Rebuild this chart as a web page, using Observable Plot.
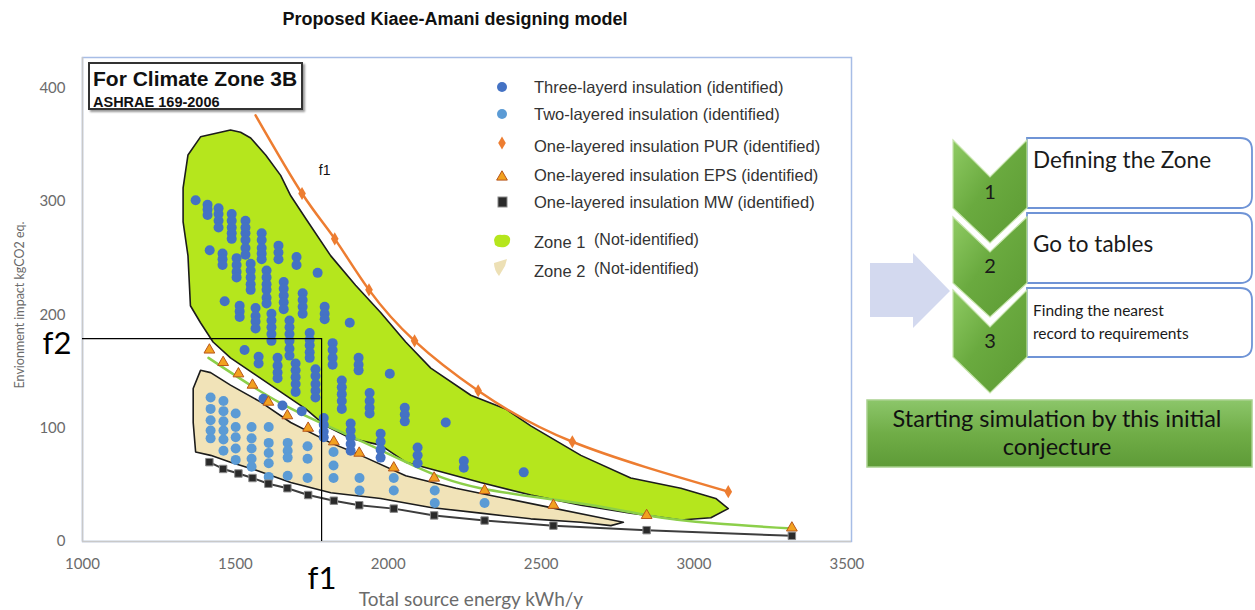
<!DOCTYPE html>
<html><head><meta charset="utf-8">
<script src="https://cdn.jsdelivr.net/npm/d3@7"></script>
<script src="https://cdn.jsdelivr.net/npm/@observablehq/plot@0.6"></script>
<style>
body{margin:0;background:#fff;}
#page{position:relative;width:1255px;height:610px;overflow:hidden;font-family:"Liberation Sans",Arial,sans-serif;}
.abs{position:absolute;white-space:nowrap;line-height:1;}
#chart{position:absolute;left:0;top:0;}
#diagram{position:absolute;left:0;top:0;}
</style></head><body><div id="page"><div id="chart"></div></div>
<script>
// ---------- data ----------
const xTicks = [1000, 1500, 2000, 2500, 3000, 3500];
const yTicks = [0, 100, 200, 300, 400];

// Three-layered insulation (identified): columns of points (x, list of y)
const threeLayerX = [1370,1409,1445,1488,1533,1586,1641,1700,1769,
  1416,1458,1504,1550,1602,1658,1720,1792,1874,
  1465,1514,1566,1618,1677,1743,1818,1903,2005,
  1530,1576,1638,1697,1762,1848,1939,2054,2188,
  1592,1654,1717,1789,1877,1975,2096,2247,2443];
const threeLayerY = [
  [301],[297,293,288],[294,289,283,277],[289,283,277,272,267],[283,277,272,266,259,253],[272,266,259,254,249],[261,255,249],[251,244],[237],
  [257],[254,249,244],[250,244,238,233],[245,239,233,227,222],[239,233,227,222,215,210],[229,223,217,211,205],[219,213,207,201],[207,201,196],[193],
  [212],[208,203,198],[206,199,194,188],[201,195,189,183,177],[195,189,183,177,170,164],[184,178,173,167,162],[175,169,162,156],[162,156,151],[148],
  [169],[163,157],[162,155,149,144],[157,151,145,139,132],[152,146,139,133,127],[142,136,130,124,117],[131,124,118,113],[118,112,106],[105],
  [126],[120],[115],[109,103,97,92],[104,98,92,86,80],[95,88,81,74],[83,76,69],[71,65],[61]
];

// Two-layered insulation (identified)
const twoLayerX = [1419,1461,1501,1553,1609,1671,1736,1821,1906,2018,2152,2315];
const twoLayerY = [[127,117,107,98,91],[124,115,106,98,90,80],[113,101,92,82,72],[101,91,82,73,66],
  [101,87,78,69,57],[87,80,74,58],[84,73,56],[79,67,56],[56,45],[56,45],[45,34],[34]];

// One-layered PUR
const purX = [1566,1718,1825,1937,2086,2294,2602,3112];
const purY = [376,307,267,222,177,133,88,44];

// One-layered EPS and MW share the same energy values
const oneLayerX = [1415,1460,1510,1556,1608,1670,1738,1822,1905,2018,2150,2315,2540,2845,3320];
const epsY = [169,158,148,138,123,111,100,88,78,65,56,45,32,23,12];
const mwY  = [70,64,60,56,51,47,41,36,32,29,23,18.5,14,10,5];

// green trend line
const trendX = [1412,1648,1867,2083,2302,2630,2849,3065,3323];
const trendY = [162,122,94,67,47,33.5,23,16,11.5];

// Zone 1 (Not-identified)
const zone1X = [1484,1386,1345,1329,1329,1345,1353,1386,1427,1484,1566,1648,1730,1795,1877,1975,2057,2139,2302,2466,2630,2793,2957,3055,3112,3071,2957,2793,2630,2466,2384,2270,2139,2057,1975,1893,1812,1730,1681,1648,1599,1550,1517];
const zone1Y = [363,357,341,312,282,252,208,193,176,162,147,132,117,102,91,85,70,64,52,41,32,25,19,21,29,38,47,56,76,102,117,129,153,176,202,226,252,285,305,323,341,356,361];

// Zone 2 (Not-identified)
const zone2X = [1386,1362,1362,1370,1419,1484,1566,1681,1812,1975,2139,2302,2466,2630,2728,2769,2711,2548,2384,2221,2057,1910,1812,1681,1583,1484,1419];
const zone2Y = [151,135,105,79,76,70,63,52,43,38,30,25,20,17,14,17,20,29,38,47,58,76,87,105,123,138,149];

// chosen design point
const f1Value = 1782;
const f2Value = 179;

const legendLabels = ["Three-layerd insulation (identified)","Two-layered insulation (identified)",
  "One-layered insulation PUR (identified)","One-layered insulation EPS (identified)",
  "One-layered insulation MW (identified)","Zone 1","Zone 2"];
const steps = ["Defining the Zone","Go to tables","Finding the nearest|record to requirements"];

// ---------- build ----------
const three = threeLayerX.flatMap((x,i)=>threeLayerY[i].map(y=>({x,y})));
const two = twoLayerX.flatMap((x,i)=>twoLayerY[i].map(y=>({x,y})));
const pur = purX.map((x,i)=>({x,y:purY[i]}));
const eps = oneLayerX.map((x,i)=>({x,y:epsY[i]}));
const mw = oneLayerX.map((x,i)=>({x,y:mwY[i]}));
const trend = trendX.map((x,i)=>({x,y:trendY[i]}));
const zone1 = zone1X.map((x,i)=>({x,y:zone1Y[i]}));
const zone2 = zone2X.map((x,i)=>({x,y:zone2Y[i]}));

const chart = Plot.plot({
  width: 870, height: 610,
  marginLeft: 82, marginRight: 19, marginTop: 57, marginBottom: 69,
  x: {domain: [1000, 3515]},
  y: {domain: [0, 427]},
  style: {fontFamily: "Lato, sans-serif", background: "transparent", color: "#6b6b6b", overflow: "visible"},
  marks: [
    Plot.frame({stroke: "#a7bde6", strokeWidth: 1.5}),
    Plot.ruleX([1000], {stroke: "#c9c9c9", strokeWidth: 1.5}),
    Plot.ruleY([0], {stroke: "#c9c9c9", strokeWidth: 1.5}),
    Plot.axisX({ticks: xTicks, tickSize: 0, tickPadding: 17, fontSize: 15, tickFormat: d => String(d), label: null}),
    Plot.axisY({ticks: yTicks, tickSize: 0, tickPadding: 17, fontSize: 15, tickFormat: d => String(d), label: null}),
    Plot.line(zone1, {x: "x", y: "y", curve: "linear-closed", fill: "#b5e61d", stroke: "#1c1c1c", strokeWidth: 1.6}),
    Plot.line(zone2, {x: "x", y: "y", curve: "linear-closed", fill: "#f1e3b8", stroke: "#1c1c1c", strokeWidth: 1.6}),
    Plot.line(mw, {x: "x", y: "y", stroke: "#3d3d3d", strokeWidth: 2}),
    Plot.line(trend, {x: "x", y: "y", curve: "natural", stroke: "#8ccf4a", strokeWidth: 2.5}),
    Plot.line(pur, {x: "x", y: "y", curve: "natural", stroke: "#ed7d31", strokeWidth: 2.5}),
    Plot.dot(two, {x: "x", y: "y", r: 5, fill: "#5b9bd5"}),
    Plot.dot(three, {x: "x", y: "y", r: 5, fill: "#4472c4"}),
    Plot.dot(eps, {x: "x", y: "y", symbol: "triangle", r: 4, fill: "#f2a11f", stroke: "#b8561b", strokeWidth: 1}),
    Plot.dot(mw, {x: "x", y: "y", symbol: "square", r: 4.2, fill: "#2a2a2a", stroke: "#8a8a8a", strokeWidth: 1}),
    Plot.dot(pur.slice(1), {x: "x", y: "y", symbol: "diamond", r: 4, fill: "#ed7d31"}),
    Plot.ruleY([f2Value], {x1: 1000, x2: f1Value, stroke: "#000", strokeWidth: 1.2}),
    Plot.ruleX([f1Value], {y1: 0, y2: f2Value, stroke: "#000", strokeWidth: 1.2}),
    Plot.text([{x: 1792, y: 327, t: "f1"}], {x: "x", y: "y", text: "t", fontSize: 14, fill: "#111", fontFamily: "Liberation Sans, Arial"})
  ]
});
document.getElementById("chart").appendChild(chart);

const page = document.getElementById("page");
function addText(txt, x, y, css, anchor) {
  const d = document.createElement("div");
  d.className = "abs";
  d.textContent = txt;
  d.style.cssText += css;
  d.style.left = x + "px"; d.style.top = y + "px";
  const tx = anchor === "middle" ? "-50%" : anchor === "end" ? "-100%" : "0";
  d.style.transform = `translate(${tx},-50%)`;
  page.appendChild(d);
  return d;
}

// title
addText("Proposed Kiaee-Amani designing model", 455, 19, "font-weight:bold;font-size:18px;color:#111;", "middle");
// axis titles
addText("Total source energy kWh/y", 471, 598, "font-family:Lato,sans-serif;font-size:19px;color:#6b6b6b;", "middle");
const yt = addText("Envionment impact kgCO2 eq.", 20, 305, "font-family:Lato,sans-serif;font-size:12.5px;color:#6b6b6b;", "middle");
yt.style.transform = "translate(-50%,-50%) rotate(-90deg)";
// f1 / f2
addText("f2", 57, 342, "font-family:Lato,sans-serif;font-size:31px;color:#000;", "middle");
addText("f1", 322, 577, "font-family:Lato,sans-serif;font-size:31px;color:#000;", "middle");

// annotation box
const box = document.createElement("div");
box.className = "abs";
box.style.cssText = "left:88px;top:62px;width:211px;height:44px;border:2px solid #333;box-shadow:2px 2px 2px #999;background:#fff;";
page.appendChild(box);
addText("For Climate Zone 3B", 93, 78, "font-weight:bold;font-size:21px;color:#111;", "start");
addText("ASHRAE 169-2006", 93, 102, "font-weight:bold;font-size:14.5px;color:#111;", "start");

// legend text
const legY = [87, 114, 146, 175, 202, 242, 271];
legendLabels.forEach((t, i) => {
  addText(t, 534, legY[i], "font-size:16.5px;color:#333;", "start");
  if (i >= 5) addText("(Not-identified)", 594, legY[i] - 2, "font-size:16px;color:#333;", "start");
});

// SVG overlay: legend markers + right diagram
const svg = d3.select(page).append("svg").attr("id", "diagram").attr("width", 1255).attr("height", 610);
const defs = svg.append("defs");
const g1 = defs.append("linearGradient").attr("id", "chev").attr("x1", 0).attr("y1", 0).attr("x2", 1).attr("y2", 1);
g1.append("stop").attr("offset", 0).attr("stop-color", "#8fcb63");
g1.append("stop").attr("offset", 0.45).attr("stop-color", "#6aaa3f");
g1.append("stop").attr("offset", 1).attr("stop-color", "#5c9a33");
const g2 = defs.append("linearGradient").attr("id", "bar").attr("x1", 0).attr("y1", 0).attr("x2", 0).attr("y2", 1);
g2.append("stop").attr("offset", 0).attr("stop-color", "#8cc66a");
g2.append("stop").attr("offset", 0.5).attr("stop-color", "#70ad47");
g2.append("stop").attr("offset", 1).attr("stop-color", "#5e9b37");

// legend markers
const lm = svg.append("g");
lm.append("circle").attr("cx", 502).attr("cy", 87).attr("r", 5).attr("fill", "#4472c4");
lm.append("circle").attr("cx", 502).attr("cy", 114).attr("r", 5).attr("fill", "#5b9bd5");
lm.append("path").attr("d", d3.symbol(d3.symbolDiamond, 50)()).attr("transform", "translate(502,143)").attr("fill", "#ed7d31");
lm.append("path").attr("d", d3.symbol(d3.symbolTriangle, 50)()).attr("transform", "translate(502,177)").attr("fill", "#f2a11f").attr("stroke", "#b8561b");
lm.append("rect").attr("x", 498).attr("y", 197).attr("width", 9).attr("height", 10).attr("fill", "#2a2a2a").attr("stroke", "#8a8a8a");
lm.append("path").attr("d", "M494,240 Q495,234 502,235 Q508,234 510,238 Q511,245 505,247 Q498,248 495,245 Z").attr("fill", "#b5e61d");
lm.append("path").attr("d", "M494,263 L507,259 L505,266 L499,276 Q494,270 494,263 Z").attr("fill", "#ede0b5");

// arrow
svg.append("polygon").attr("points", "870,263 913,263 913,253 950,291 913,328 913,317 870,317").attr("fill", "#d3d9ef");

// step boxes
const boxY = [[138, 208], [213, 283], [288, 357]];
boxY.forEach(([t, b]) => {
  svg.append("path").attr("d", `M1027,${t} H1240 Q1252,${t} 1252,${t+12} V${b-12} Q1252,${b} 1240,${b} H1027 Z`)
    .attr("fill", "#fff").attr("stroke", "#6f94d6").attr("stroke-width", 1.8);
});
// chevrons
const chev = [[140, 177, 208, 243], [217, 252, 283, 317], [290, 327, 357, 393]];
chev.forEach(([t, n, s, p]) => {
  svg.append("polygon").attr("points", `953,${t} 990,${n} 1027,${t} 1027,${s} 990,${p} 953,${s}`)
    .attr("fill", "url(#chev)").attr("stroke", "#c4e3a9").attr("stroke-width", 1.2);
});
["1", "2", "3"].forEach((t, i) => {
  svg.append("text").attr("x", 990).attr("y", [192, 266, 341][i]).attr("dy", "0.35em").attr("text-anchor", "middle")
    .attr("font-family", "Lato, sans-serif").attr("font-size", 20).attr("fill", "#1a1a1a").text(t);
});
const stepText = [[168, 22.5], [252, 22.5], [316, 15.5]];
steps.forEach((s, i) => {
  const lines = s.split("|");
  lines.forEach((ln, j) => {
    svg.append("text").attr("x", 1033).attr("y", stepText[i][0] + j * 23).attr("font-family", "Lato, sans-serif")
      .attr("font-size", stepText[i][1]).attr("fill", "#1a1a1a").text(ln);
  });
});
// bottom bar
svg.append("rect").attr("x", 867).attr("y", 400).attr("width", 385).attr("height", 67)
  .attr("fill", "url(#bar)").attr("stroke", "#a9d18e").attr("stroke-width", 1.5);
svg.append("text").attr("x", 1057).attr("y", 427).attr("text-anchor", "middle").attr("font-family", "Lato, sans-serif")
  .attr("font-size", 23.5).attr("fill", "#111").text("Starting simulation by this initial");
svg.append("text").attr("x", 1057).attr("y", 455).attr("text-anchor", "middle").attr("font-family", "Lato, sans-serif")
  .attr("font-size", 23.5).attr("fill", "#111").text("conjecture");
</script></body></html>
